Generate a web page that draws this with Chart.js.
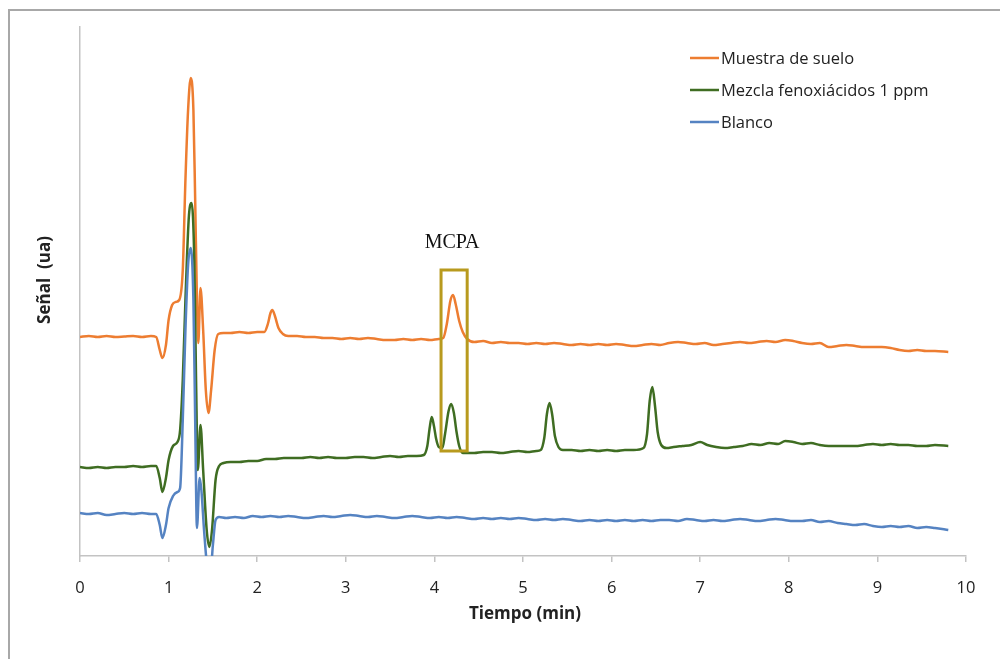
<!DOCTYPE html>
<html>
<head>
<meta charset="utf-8">
<script src="https://cdn.jsdelivr.net/npm/chart.js@4.4.1/dist/chart.umd.min.js"></script>
<style>
  html, body { margin: 0; padding: 0; background: #fff; overflow: hidden; }
  #wrap { position: relative; width: 1000px; height: 659px; }
  #frame { position: absolute; left: 8px; top: 9px; width: 1100px; height: 800px;
           border-left: 2px solid #a8a8a8; border-top: 2px solid #a8a8a8; pointer-events: none; }
  canvas { position: absolute; left: 0; top: 0; }
</style>
</head>
<body>
<div id="wrap">
  <canvas id="chromChart" width="1000" height="659"></canvas>
  <div id="frame"></div>
</div>
<script>
// series names and colours
const seriesNames = ['Muestra de suelo', 'Mezcla fenoxiácidos 1 ppm', 'Blanco'];
const seriesColors = ['#ed7d31', '#3f6d22', '#5583c2'];
const xTicks = [0, 1, 2, 3, 4, 5, 6, 7, 8, 9, 10];

// Muestra de suelo
const sueloT = [
  0.00, 0.10, 0.20, 0.30, 0.40, 0.50, 0.60, 0.70, 0.80, 0.86,
  0.90, 0.93, 0.97, 1.00, 1.04, 1.08, 1.12, 1.16, 1.19, 1.22,
  1.25, 1.28, 1.30, 1.32, 1.335, 1.36, 1.39, 1.42, 1.45, 1.48,
  1.52, 1.56, 1.62, 1.70, 1.80, 1.90, 2.00, 2.08, 2.12, 2.15,
  2.17, 2.20, 2.24, 2.29, 2.35, 2.45, 2.55, 2.65, 2.75, 2.85,
  2.95, 3.05, 3.15, 3.25, 3.35, 3.45, 3.55, 3.65, 3.75, 3.85,
  3.95, 4.05, 4.10, 4.14, 4.18, 4.21, 4.24, 4.28, 4.32, 4.37,
  4.45, 4.55, 4.65, 4.75, 4.85, 4.95, 5.05, 5.15, 5.25, 5.35,
  5.45, 5.55, 5.65, 5.75, 5.85, 5.95, 6.05, 6.15, 6.25, 6.35,
  6.45, 6.55, 6.65, 6.75, 6.85, 6.95, 7.05, 7.15, 7.25, 7.35,
  7.45, 7.55, 7.65, 7.75, 7.85, 7.96, 8.05, 8.15, 8.25, 8.35,
  8.45, 8.55, 8.65, 8.75, 8.85, 8.95, 9.05, 9.15, 9.25, 9.35,
  9.45, 9.55, 9.65, 9.80];
const sueloY = [
  219, 220, 219, 220, 219, 219.5, 220, 219, 220, 219,
  206, 198, 211, 236, 251, 254, 256, 286, 376, 446,
  478, 446, 356, 256, 213, 268, 226, 166, 143, 166,
  206, 222, 223, 223, 224, 223, 224, 224, 232, 243,
  246, 240, 228, 222, 220, 220, 219, 219, 218, 218,
  217, 218, 217, 218, 217, 216, 216, 217, 216, 217,
  216, 217, 218, 232, 255, 261, 252, 235, 224, 217,
  214, 215, 213, 214, 213, 213, 212, 213, 212, 213,
  212, 211, 212, 211, 212, 211, 212, 211, 210, 211,
  212, 211, 213, 214, 213, 212, 213, 211, 212, 213,
  214, 213, 214, 215, 214, 216, 215, 213, 212, 213,
  209, 210, 211, 210, 209, 209, 209, 208, 206, 205,
  206, 205, 205, 204];

// Mezcla fenoxiácidos 1 ppm
const mezclaT = [
  0.00, 0.10, 0.20, 0.30, 0.40, 0.50, 0.60, 0.70, 0.80, 0.86,
  0.90, 0.93, 0.97, 1.00, 1.05, 1.10, 1.13, 1.16, 1.19, 1.23,
  1.26, 1.29, 1.31, 1.33, 1.36, 1.39, 1.43, 1.46, 1.49, 1.53,
  1.57, 1.62, 1.70, 1.80, 1.90, 2.00, 2.10, 2.20, 2.30, 2.40,
  2.50, 2.60, 2.70, 2.80, 2.90, 3.00, 3.10, 3.20, 3.30, 3.40,
  3.50, 3.60, 3.70, 3.80, 3.88, 3.92, 3.945, 3.97, 3.995, 4.02,
  4.05, 4.09, 4.12, 4.16, 4.19, 4.22, 4.25, 4.28, 4.32, 4.45,
  4.55, 4.65, 4.75, 4.85, 4.95, 5.05, 5.15, 5.20, 5.24, 5.27,
  5.30, 5.33, 5.36, 5.40, 5.45, 5.55, 5.65, 5.75, 5.85, 5.95,
  6.05, 6.15, 6.25, 6.36, 6.40, 6.43, 6.46, 6.49, 6.52, 6.56,
  6.62, 6.70, 6.80, 6.90, 7.00, 7.08, 7.18, 7.28, 7.38, 7.48,
  7.58, 7.68, 7.78, 7.88, 7.96, 8.05, 8.15, 8.25, 8.35, 8.45,
  8.55, 8.65, 8.75, 8.85, 8.95, 9.05, 9.15, 9.25, 9.35, 9.45,
  9.55, 9.65, 9.80];
const mezclaY = [
  89, 88, 89, 88, 89, 89, 90, 89, 90, 90,
  78, 64, 78, 96, 110, 114, 126, 176, 256, 341,
  353, 296, 176, 86, 131, 86, 26, 9, 26, 76,
  90, 93, 94, 94, 95, 95, 97, 97, 98, 98,
  98, 99, 98, 99, 98, 98, 99, 99, 98, 99,
  100, 99, 100, 100, 101, 110, 127, 139, 130, 117,
  109, 108, 122, 145, 152, 143, 124, 110, 103, 103,
  104, 104, 103, 104, 105, 104, 105, 106, 118, 142,
  153, 141, 120, 109, 106, 106, 105, 106, 105, 106,
  105, 106, 106, 108, 122, 155, 169, 150, 124, 111,
  108, 109, 110, 111, 114, 111, 109, 108, 109, 110,
  112, 111, 113, 112, 115, 114, 112, 113, 111, 110,
  110, 110, 110, 111, 112, 111, 112, 111, 111, 110,
  110, 111, 110];

// Blanco
const blancoT = [
  0.00, 0.10, 0.20, 0.30, 0.40, 0.50, 0.60, 0.70, 0.80, 0.86,
  0.90, 0.93, 0.97, 1.00, 1.05, 1.10, 1.13, 1.16, 1.19, 1.22,
  1.25, 1.28, 1.30, 1.32, 1.35, 1.37, 1.40, 1.44, 1.47, 1.50,
  1.53, 1.57, 1.65, 1.75, 1.85, 1.95, 2.05, 2.15, 2.25, 2.35,
  2.45, 2.55, 2.65, 2.75, 2.85, 2.95, 3.05, 3.15, 3.25, 3.35,
  3.45, 3.55, 3.65, 3.75, 3.85, 3.95, 4.05, 4.15, 4.25, 4.35,
  4.45, 4.55, 4.65, 4.75, 4.85, 4.95, 5.05, 5.15, 5.25, 5.35,
  5.45, 5.55, 5.65, 5.75, 5.85, 5.95, 6.05, 6.15, 6.25, 6.35,
  6.45, 6.55, 6.65, 6.75, 6.85, 6.95, 7.05, 7.15, 7.25, 7.35,
  7.45, 7.55, 7.65, 7.75, 7.85, 7.95, 8.05, 8.15, 8.25, 8.35,
  8.45, 8.55, 8.65, 8.75, 8.85, 8.95, 9.05, 9.15, 9.25, 9.35,
  9.45, 9.55, 9.65, 9.80];
const blancoY = [
  43, 42, 43, 41, 42, 43, 42, 43, 42, 42,
  31, 18, 31, 48, 60, 64, 68, 136, 226, 291,
  308, 256, 136, 28, 78, 66, 26, -14, -19, 11,
  36, 39, 38, 39, 38, 40, 39, 40, 39, 40,
  39, 38, 39, 40, 39, 40, 41, 40, 39, 40,
  39, 38, 39, 40, 39, 38, 39, 38, 39, 38,
  37, 38, 37, 38, 37, 38, 37, 36, 37, 36,
  37, 36, 35, 36, 35, 36, 35, 36, 35, 36,
  35, 36, 36, 35, 37, 36, 35, 36, 35, 36,
  37, 36, 35, 36, 37, 36, 35, 35, 36, 34,
  35, 33, 32, 31, 32, 30, 29, 30, 29, 30,
  28, 29, 28, 26];

// MCPA marker window (time range and signal range)
const mcpaT = [4.075, 4.37];
const mcpaY = [105, 286];

function toPoints(ts, ys) {
  return ts.map((t, i) => ({ x: t, y: ys[i] }));
}

const sansFont = '"Open Sans", Lato, sans-serif';

const decorPlugin = {
  id: 'decor',
  afterDraw(chart) {
    const ctx = chart.ctx;
    const xs = chart.scales.x;
    const ys = chart.scales.y;
    ctx.save();

    // MCPA box
    const bx0 = xs.getPixelForValue(mcpaT[0]);
    const bx1 = xs.getPixelForValue(mcpaT[1]);
    const by0 = ys.getPixelForValue(mcpaY[1]);
    const by1 = ys.getPixelForValue(mcpaY[0]);
    ctx.strokeStyle = '#b89a1e';
    ctx.lineWidth = 3;
    ctx.strokeRect(bx0, by0, bx1 - bx0, by1 - by0);

    ctx.fillStyle = '#111';
    ctx.font = '20px "Liberation Serif", serif';
    ctx.textAlign = 'center';
    ctx.textBaseline = 'alphabetic';
    ctx.fillText('MCPA', (bx0 + bx1) / 2 - 2, by0 - 22);

    // legend
    ctx.font = '16.5px ' + sansFont;
    ctx.textAlign = 'left';
    ctx.textBaseline = 'middle';
    seriesNames.forEach((name, i) => {
      const y = 58 + i * 32;
      ctx.strokeStyle = seriesColors[i];
      ctx.lineWidth = 2.5;
      ctx.beginPath();
      ctx.moveTo(690, y);
      ctx.lineTo(719, y);
      ctx.stroke();
      ctx.fillStyle = '#222';
      ctx.fillText(name, 721, y + 1);
    });

    // axis titles
    ctx.font = 'bold 17px ' + sansFont;
    ctx.fillStyle = '#222';
    ctx.textAlign = 'center';
    ctx.fillText('Tiempo (min)', (xs.left + xs.right) / 2 + 2, 614);
    ctx.translate(45, 280);
    ctx.rotate(-Math.PI / 2);
    ctx.fillText('Señal  (ua)', 0, 0);
    ctx.restore();
  }
};

const axisGray = '#c3c3c3';

new Chart(document.getElementById('chromChart'), {
  type: 'line',
  data: {
    datasets: [
      { label: seriesNames[0], data: toPoints(sueloT, sueloY), borderColor: seriesColors[0], order: 2 },
      { label: seriesNames[1], data: toPoints(mezclaT, mezclaY), borderColor: seriesColors[1], order: 1 },
      { label: seriesNames[2], data: toPoints(blancoT, blancoY), borderColor: seriesColors[2], order: 0 }
    ]
  },
  options: {
    responsive: false,
    animation: false,
    devicePixelRatio: 1,
    layout: { padding: { left: 0, top: 27, right: 34, bottom: 0 } },
    elements: {
      line: { borderWidth: 2.5, cubicInterpolationMode: 'monotone', fill: false },
      point: { radius: 0 }
    },
    plugins: { legend: { display: false }, tooltip: { enabled: false } },
    scales: {
      x: {
        type: 'linear',
        min: 0,
        max: 10,
        afterFit: scale => { scale.height = 103; },
        afterBuildTicks: scale => { scale.ticks = xTicks.map(v => ({ value: v })); },
        ticks: { color: '#222', font: { family: sansFont, size: 16.5 }, padding: 16 },
        grid: { drawOnChartArea: false, color: axisGray, tickLength: 6, lineWidth: 1.5 },
        border: { color: axisGray, width: 1.5 }
      },
      y: {
        min: 0,
        max: 529,
        afterFit: scale => { scale.width = 80; },
        ticks: { display: false },
        grid: { display: false },
        border: { color: axisGray, width: 1.5 }
      }
    }
  },
  plugins: [decorPlugin]
});
</script>
</body>
</html>
